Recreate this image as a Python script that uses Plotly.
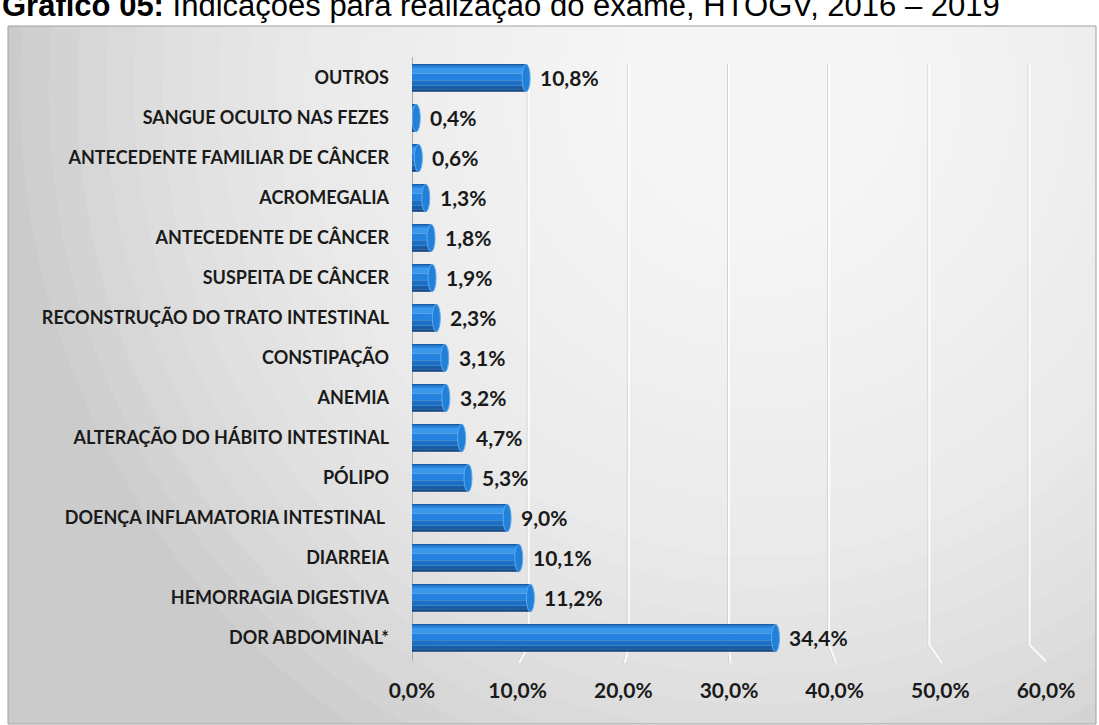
import plotly.graph_objects as go

# ---------------- data ----------------
categories = [
    "OUTROS",
    "SANGUE OCULTO NAS FEZES",
    "ANTECEDENTE FAMILIAR DE CÂNCER",
    "ACROMEGALIA",
    "ANTECEDENTE DE CÂNCER",
    "SUSPEITA DE CÂNCER",
    "RECONSTRUÇÃO DO TRATO INTESTINAL",
    "CONSTIPAÇÃO",
    "ANEMIA",
    "ALTERAÇÃO DO HÁBITO INTESTINAL",
    "PÓLIPO",
    "DOENÇA INFLAMATORIA INTESTINAL ",
    "DIARREIA",
    "HEMORRAGIA DIGESTIVA",
    "DOR ABDOMINAL*",
]
values = [10.8, 0.4, 0.6, 1.3, 1.8, 1.9, 2.3, 3.1, 3.2, 4.7, 5.3, 9.0, 10.1, 11.2, 34.4]
tick_values = [0, 10, 20, 30, 40, 50, 60]
tick_labels = ["0,0%", "10,0%", "20,0%", "30,0%", "40,0%", "50,0%", "60,0%"]
title_bold = "Gráfico 05:"
title_rest = " Indicações para realização do exame, HTOGV, 2016 – 2019"

# ---------------- geometry ----------------
W, H = 1099, 725
L, R, T, B = 412, 53, 58, 67
PW, PH = W - L - R, H - T - B


def px_x(p):
    return (p - L) / PW


def px_y(p):
    return 1 - (p - T) / PH


def pct(v):
    return f"{v:.1f}%".replace(".", ",")


LABEL_FONT = "Lato"
fig = go.Figure()

# 3D-cylinder look: horizontal colour bands of each bar (top -> bottom)
BAR_W = 0.69
bands = [
    (0.00, 0.05, "#1a5fa8"),
    (0.05, 0.14, "#2a86dc"),
    (0.14, 0.34, "#3a97ee"),
    (0.34, 0.58, "#2483de"),
    (0.58, 0.78, "#1b70c6"),
    (0.78, 0.91, "#155ca9"),
    (0.91, 1.00, "#0e4483"),
]
for f0, f1, col in bands:
    fig.add_trace(go.Bar(
        x=values, y=categories, orientation="h",
        width=BAR_W * (f1 - f0), offset=-BAR_W / 2 + BAR_W * f0,
        marker=dict(color=col, line=dict(width=0)),
        hoverinfo="skip", showlegend=False,
    ))

shapes = []
# chart box background (gradient approximated by stacked translucent ellipses)
shapes.append(dict(type="rect", xref="paper", yref="paper",
                   x0=px_x(8), x1=px_x(1096), y0=px_y(724), y1=px_y(26),
                   fillcolor="#cbcbcb", line=dict(width=0), layer="below"))
cx, cy = 760, 90
n = 26
for i in range(n):
    f = 1 - i / n
    rx, ry = 740 * f, 760 * f
    shapes.append(dict(type="circle", xref="paper", yref="paper",
                       x0=px_x(cx - rx), x1=px_x(cx + rx),
                       y0=px_y(cy + ry), y1=px_y(cy - ry),
                       fillcolor="rgba(255,255,255,0.09)", line=dict(width=0),
                       layer="below"))
# white strips outside the box
shapes.append(dict(type="rect", xref="paper", yref="paper",
                   x0=px_x(-50), x1=px_x(W + 50), y0=px_y(26), y1=px_y(-300),
                   fillcolor="white", line=dict(width=0), layer="below"))
shapes.append(dict(type="rect", xref="paper", yref="paper",
                   x0=px_x(-50), x1=px_x(8), y0=px_y(H + 50), y1=px_y(-300),
                   fillcolor="white", line=dict(width=0), layer="below"))
shapes.append(dict(type="rect", xref="paper", yref="paper",
                   x0=px_x(1096), x1=px_x(W + 50), y0=px_y(H + 50), y1=px_y(-300),
                   fillcolor="white", line=dict(width=0), layer="below"))
# box border
shapes.append(dict(type="rect", xref="paper", yref="paper",
                   x0=px_x(8), x1=px_x(1096), y0=px_y(724), y1=px_y(26),
                   fillcolor="rgba(0,0,0,0)", line=dict(color="#a0a0a0", width=1),
                   layer="below"))

# gridlines on the back wall (perspective: back wall slightly compressed),
# bending forward to the floor at the bottom
BACK_SHIFT = 15 * 60 / PW      # back wall origin offset (data units)
BACK_SCALE = 0.948             # back wall compression
for tv in tick_values[1:]:
    xb = BACK_SHIFT + tv * BACK_SCALE
    path = f"M {xb},{px_y(64)} L {xb},{px_y(645)} L {tv},{px_y(663)}"
    shapes.append(dict(type="path", xref="x", yref="paper", path=path,
                       line=dict(color="#d2d2d2", width=1), layer="below"))
    dx = 1.5 * 60 / PW
    path2 = f"M {xb + dx},{px_y(64)} L {xb + dx},{px_y(645)} L {tv + dx},{px_y(663)}"
    shapes.append(dict(type="path", xref="x", yref="paper", path=path2,
                       line=dict(color="rgba(255,255,255,0.85)", width=2), layer="below"))

# vertical axis wall
wall = f"M -7,{px_y(667)} L -7,{px_y(45)} L 1,{px_y(58)} L 1,{px_y(660)} Z"
shapes.append(dict(type="path", xref="x", xsizemode="pixel", xanchor=0,
                   yref="paper", path=wall, fillcolor="#a8a8a8",
                   line=dict(width=0), layer="below"))
shapes.append(dict(type="line", xref="x", xsizemode="pixel", xanchor=0,
                   yref="paper", x0=-6, x1=-6, y0=px_y(667), y1=px_y(45),
                   line=dict(color="#4a4a4a", width=2.5), layer="below"))

# rounded cylinder end caps
for i, v in enumerate(values):
    shapes.append(dict(type="circle", xref="x", xsizemode="pixel", xanchor=v,
                       x0=-4, x1=4, yref="y",
                       y0=i - BAR_W / 2, y1=i + BAR_W / 2,
                       fillcolor="#2380d8", line=dict(color="#5ea9ee", width=1),
                       layer="above"))

# data labels
for c, v in zip(categories, values):
    fig.add_annotation(
        x=v, y=c, xref="x", yref="y", text=f"<b>{pct(v)}</b>",
        showarrow=False, xanchor="left", xshift=12, yshift=1,
        font=dict(family=LABEL_FONT, size=21, color="#1a1a1a"),
    )

# title (top partly cut off by the page edge, as in the source)
fig.add_annotation(
    xref="paper", yref="paper", x=px_x(0), y=px_y(25),
    xanchor="left", yanchor="bottom", showarrow=False,
    text=f"<b>{title_bold}</b>{title_rest}",
    font=dict(family="Liberation Sans, Arial", size=31, color="#000000"),
)

fig.update_layout(
    width=W, height=H,
    margin=dict(l=L, r=R, t=T, b=B, pad=0, autoexpand=False),
    paper_bgcolor="white",
    plot_bgcolor="rgba(0,0,0,0)",
    barmode="overlay",
    shapes=shapes,
    showlegend=False,
    xaxis=dict(
        range=[0, 60], tickvals=tick_values, ticktext=tick_labels,
        showgrid=False, zeroline=False, showline=False, ticks="",
        tickfont=dict(family=LABEL_FONT, size=21, color="#1a1a1a", weight="bold"),
        ticklabelstandoff=18, fixedrange=True, automargin=False,
    ),
    yaxis=dict(
        categoryorder="array", categoryarray=categories,
        autorange="reversed",
        showgrid=False, zeroline=False, showline=False, ticks="",
        tickfont=dict(family=LABEL_FONT, size=18, color="#1a1a1a", weight="bold"),
        ticklabelstandoff=22, fixedrange=True, automargin=False,
    ),
)

fig.write_html("out.html", config={"displayModeBar": False},
               post_script="document.body.style.margin='0px';")
